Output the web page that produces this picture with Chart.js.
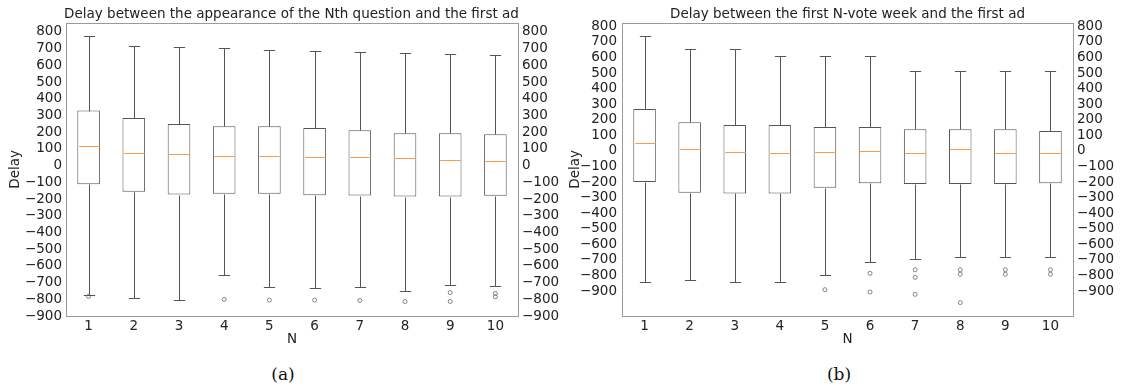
<!DOCTYPE html>
<html>
<head>
<meta charset="utf-8">
<script src="https://cdn.jsdelivr.net/npm/chart.js@4/dist/chart.umd.min.js"></script>
<style>
  html, body { margin: 0; padding: 0; background: #fff; }
  body { width: 1122px; height: 388px; position: relative; overflow: hidden; }
  .panel { position: absolute; top: 0; }
  .cap { position: absolute; top: 364px; font-family: "DejaVu Serif", serif; font-size: 17px; color: #111; transform: translateX(-50%); white-space: nowrap; }
</style>
</head>
<body>
<canvas id="chartA" class="panel" style="left:0" width="583" height="355"></canvas>
<canvas id="chartB" class="panel" style="left:560px" width="575" height="355"></canvas>
<div class="cap" style="left:283px">(a)</div>
<div class="cap" style="left:839px">(b)</div>
<script>
// N values shared by both panels
const categories = ['1', '2', '3', '4', '5', '6', '7', '8', '9', '10'];
const yTickValues = [-900, -800, -700, -600, -500, -400, -300, -200, -100, 0, 100, 200, 300, 400, 500, 600, 700, 800];

// (a) delay between the appearance of the Nth question and the first ad
const aUpper  = [773, 716, 710, 704, 694, 684, 678, 672, 666, 662];
const aQ3     = [329, 285, 249, 235, 235, 225, 211, 193, 193, 187];
const aMedian = [118, 76, 68, 58, 58, 52, 52, 48, 32, 28];
const aQ1     = [-112, -157, -173, -169, -169, -178, -179, -185, -185, -181];
const aLower  = [-773, -791, -803, -656, -728, -734, -728, -750, -714, -722];
const aOutliers = [[-783], [], [], [-801], [-805], [-805], [-807], [-813], [-760, -813], [-765, -785]];

// (b) delay between the first N-vote week and the first ad
const bUpper  = [737, 654, 654, 609, 609, 609, 513, 513, 513, 513];
const bQ3     = [269, 184, 167, 167, 154, 154, 139, 139, 139, 128];
const bMedian = [49, 15, -6, -13, -6, 2, -13, 9, -13, -13];
const bQ1     = [-199, -269, -273, -273, -237, -207, -213, -213, -213, -207];
const bLower  = [-840, -831, -844, -844, -799, -712, -696, -683, -683, -683];
const bOutliers = [[], [], [], [], [-891], [-786, -906], [-763, -812, -921], [-763, -792, -974], [-763, -792], [-763, -792]];

Chart.defaults.font.family = "'DejaVu Sans', sans-serif";
Chart.defaults.font.size = 13.5;
Chart.defaults.color = '#222';

const BOX_COLOR = '#555555';
const MEDIAN_COLOR = '#fb9a4c';
const SPINE_COLOR = '#9a9a9a';

const fmt = v => (v < 0 ? '\u2212' + Math.abs(v) : String(v));

// whiskers, caps, medians and the axes frame, placed through the chart scales
function boxPlugin(st) {
  return {
    id: 'boxWhiskers',
    afterDatasetsDraw(chart) {
      const { ctx, chartArea, scales: { x, y } } = chart;
      const bars = chart.getDatasetMeta(0).data;
      ctx.save();
      ctx.lineWidth = 1;
      categories.forEach((c, i) => {
        const cx = Math.round(x.getPixelForValue(i)) + 0.5;
        const half = bars[i].width / 2;
        const capHalf = half / 2;
        const px = v => Math.round(y.getPixelForValue(v)) + 0.5;
        ctx.strokeStyle = BOX_COLOR;
        ctx.beginPath();
        ctx.moveTo(cx, px(st.q3[i])); ctx.lineTo(cx, px(st.upper[i]));
        ctx.moveTo(cx, px(st.q1[i])); ctx.lineTo(cx, px(st.lower[i]));
        ctx.moveTo(cx - capHalf, px(st.upper[i])); ctx.lineTo(cx + capHalf, px(st.upper[i]));
        ctx.moveTo(cx - capHalf, px(st.lower[i])); ctx.lineTo(cx + capHalf, px(st.lower[i]));
        ctx.stroke();
        ctx.strokeStyle = MEDIAN_COLOR;
        ctx.beginPath();
        ctx.moveTo(cx - half + 1, px(st.median[i])); ctx.lineTo(cx + half - 1, px(st.median[i]));
        ctx.stroke();
      });
      ctx.strokeStyle = SPINE_COLOR;
      ctx.strokeRect(Math.round(chartArea.left) + 0.5, Math.round(chartArea.top) + 0.5,
                     Math.round(chartArea.right - chartArea.left), Math.round(chartArea.bottom - chartArea.top));
      ctx.restore();
    }
  };
}

function makePanel(id, st, titleText, yMin, yMax, dims) {
  const outlierPoints = [];
  st.outliers.forEach((list, i) => list.forEach(v => outlierPoints.push({ x: categories[i], y: v })));
  const yAxis = (pos, width, pad) => ({
    type: 'linear',
    position: pos,
    min: yMin,
    max: yMax,
    afterBuildTicks: s => { s.ticks = yTickValues.map(v => ({ value: v })); },
    afterFit: s => { s.width = width; },
    grid: { display: false, drawTicks: false },
    border: { display: false },
    ticks: { padding: pad, color: '#222', autoSkip: false, callback: v => fmt(v) },
    title: pos === 'left'
      ? { display: true, text: 'Delay', color: '#222', font: { size: 13.5, lineHeight: 1.2 }, padding: { top: 7, bottom: 0 } }
      : { display: false }
  });
  return new Chart(document.getElementById(id), {
    type: 'bar',
    data: {
      labels: categories,
      datasets: [
        {
          type: 'bar',
          data: st.q1.map((q, i) => [q, st.q3[i]]),
          backgroundColor: '#ffffff',
          borderColor: BOX_COLOR,
          borderWidth: 1,
          borderSkipped: false,
          categoryPercentage: 1,
          barPercentage: 0.5
        },
        {
          type: 'line',
          data: outlierPoints,
          showLine: false,
          pointStyle: 'circle',
          pointRadius: 2,
          pointBorderWidth: 0.8,
          pointBorderColor: '#666',
          pointBackgroundColor: 'rgba(0,0,0,0)'
        }
      ]
    },
    options: {
      responsive: false,
      animation: false,
      events: [],
      layout: { padding: 0 },
      plugins: {
        legend: { display: false },
        tooltip: { enabled: false },
        title: {
          display: true,
          text: titleText,
          color: '#222',
          font: { size: 13.5, weight: 'normal', lineHeight: 1 },
          padding: { top: 7.5, bottom: 1.7 }
        }
      },
      scales: {
        x: {
          type: 'category',
          offset: true,
          afterFit: s => { s.height = dims.xh; },
          grid: { display: false, drawTicks: false },
          border: { display: false },
          ticks: { padding: 2, color: '#222', autoSkip: false, maxRotation: 0 },
          title: { display: true, text: 'N', color: '#222', font: { size: 13.5, lineHeight: 1.2 }, padding: { top: 0, bottom: 7 } }
        },
        y: yAxis('left', dims.yw, dims.ypad),
        y2: yAxis('right', dims.y2w, 4)
      }
    },
    plugins: [boxPlugin(st)]
  });
}

makePanel('chartA',
  { upper: aUpper, q3: aQ3, median: aMedian, q1: aQ1, lower: aLower, outliers: aOutliers },
  'Delay between the appearance of the Nth question and the first ad',
  -900, 855, { yw: 66, y2w: 65, xh: 39, ypad: 4 });

makePanel('chartB',
  { upper: bUpper, q3: bQ3, median: bMedian, q1: bQ1, lower: bLower, outliers: bOutliers },
  'Delay between the first N-vote week and the first ad',
  -1060, 823, { yw: 62, y2w: 62, xh: 39, ypad: 5 });
</script>
</body>
</html>
